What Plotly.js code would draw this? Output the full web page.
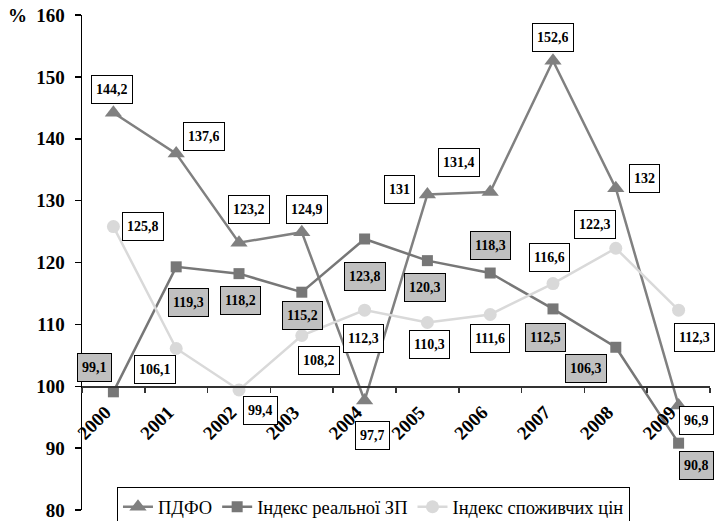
<!DOCTYPE html>
<html>
<head>
<meta charset="utf-8">
<script src="https://cdn.plot.ly/plotly-3.0.1.min.js"></script>
<style>html,body{margin:0;padding:0;background:#fff;}#chart{width:717px;height:521px;}</style>
</head>
<body>
<div id="chart"></div>
<script>
// ---- data ----
const years = ["2000","2001","2002","2003","2004","2005","2006","2007","2008","2009"];
const pdfo = [144.2, 137.6, 123.2, 124.9, 97.7, 131, 131.4, 152.6, 132, 96.9];
const realWage = [99.1, 119.3, 118.2, 115.2, 123.8, 120.3, 118.3, 112.5, 106.3, 90.8];
const cpi = [125.8, 106.1, 99.4, 108.2, 112.3, 110.3, 111.6, 116.6, 122.3, 112.3];
const seriesNames = ["ПДФО", "Індекс реальної ЗП", "Індекс споживчих цін"];
const yTicks = [80, 90, 100, 110, 120, 130, 140, 150, 160];

// ---- label placement (pixel offsets from each point: [dx, dy], dy downward) ----
const pdfoOff = [[-1,-23],[28,-17],[10,-33],[5,-23],[8,35],[-28,-5],[-31,-29],[0,-23],[29,-10],[18,15]];
const wageOff = [[-19,-24],[12,36],[1,27],[1,23],[0,38],[-2,27],[0,-28],[-8,29],[-30,21],[18,22]];
const cpiOff  = [[30,0],[-21,21],[21,21],[17,25],[-1,28],[2,22],[0,24],[-4,-26],[-21,-24],[16,27]];

const serif = "Liberation Serif";
const fmt = v => String(v).replace('.', ',');

const traces = [
  {x: years, y: pdfo, name: seriesNames[0], type: 'scatter', mode: 'lines+markers',
   line: {color: '#808080', width: 2.5}, marker: {symbol: 'triangle-up', size: 15, color: '#808080'}},
  {x: years, y: realWage, name: seriesNames[1], type: 'scatter', mode: 'lines+markers',
   line: {color: '#777777', width: 2.5}, marker: {symbol: 'square', size: 11, color: '#777777'}},
  {x: years, y: cpi, name: seriesNames[2], type: 'scatter', mode: 'lines+markers',
   line: {color: '#d9d9d9', width: 2.5}, marker: {symbol: 'circle', size: 13, color: '#d9d9d9'}}
];

const annotations = [];
function addLabels(vals, offs, bg) {
  vals.forEach((v, i) => {
    annotations.push({
      x: i, y: v, xref: 'x', yref: 'y', text: fmt(v), showarrow: false,
      xshift: offs[i][0], yshift: -offs[i][1], height: 19,
      font: {family: serif, size: 14, color: '#000', weight: 'bold'},
      bgcolor: bg, bordercolor: '#000', borderwidth: 1, borderpad: 4
    });
  });
}
addLabels(pdfo, pdfoOff, '#ffffff');
addLabels(realWage, wageOff, '#c0c0c0');
addLabels(cpi, cpiOff, '#ffffff');
annotations.push({
  xref: 'paper', yref: 'paper', x: -0.102, y: 1.0, text: '%', showarrow: false,
  xanchor: 'center', yanchor: 'middle',
  font: {family: serif, size: 19, color: '#000', weight: 'bold'}
});

const layout = {
  width: 717, height: 521,
  margin: {l: 82, r: 7, t: 15, b: 11, autoexpand: false},
  paper_bgcolor: '#fff', plot_bgcolor: '#fff',
  showlegend: true,
  legend: {
    orientation: 'h', x: 0.0557, xanchor: 'left', y: 0.046, yanchor: 'top',
    bordercolor: '#000', borderwidth: 1, bgcolor: '#fff',
    font: {family: serif, size: 18.5, color: '#000'}
  },
  xaxis: {
    type: 'category', anchor: 'free', position: 0.25,
    range: [-0.5, 9.5],
    showline: true, linecolor: '#333', linewidth: 1.5,
    ticks: 'outside', ticklen: 5, tickcolor: '#333', tickwidth: 1.5,
    tickson: 'boundaries', tickangle: -45, showgrid: false, zeroline: false,
    ticklabelshift: -8, ticklabelstandoff: 6,
    tickfont: {family: serif, size: 19, color: '#000', weight: 'bold'}
  },
  yaxis: {
    range: [80, 160], tickvals: yTicks, ticktext: yTicks.map(String),
    showline: true, linecolor: '#000', linewidth: 1.5,
    ticks: 'outside', ticklen: 6, tickcolor: '#000', tickwidth: 1.5,
    showgrid: false, zeroline: false, ticklabelstandoff: 6,
    tickfont: {family: serif, size: 19, color: '#000', weight: 'bold'}
  },
  annotations: annotations
};

Plotly.newPlot('chart', traces, layout, {displayModeBar: false, staticPlot: true});
</script>
</body>
</html>
